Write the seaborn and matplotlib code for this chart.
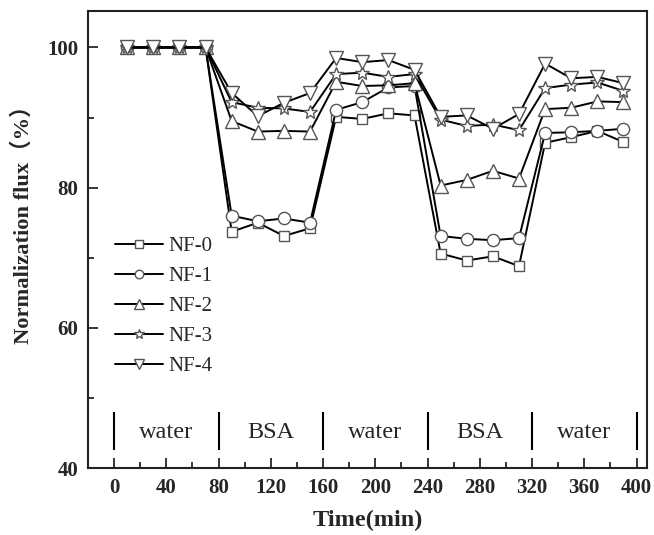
import numpy as np
import pandas as pd
import seaborn as sns
import matplotlib
matplotlib.use("Agg")
import matplotlib.pyplot as plt
from matplotlib.ticker import MultipleLocator

# ---- data ----
time = [10, 30, 50, 70, 90, 110, 130, 150, 170, 190, 210, 230,
        250, 270, 290, 310, 330, 350, 370, 390]
nf0 = [100, 100, 100, 100, 73.7, 75.0, 73.1, 74.2, 90.1, 89.8, 90.6, 90.3,
       70.6, 69.6, 70.2, 68.8, 86.4, 87.2, 88.1, 86.5]
nf1 = [100, 100, 100, 100, 76.0, 75.2, 75.6, 75.0, 91.1, 92.2, 94.3, 94.5,
       73.1, 72.7, 72.5, 72.8, 87.8, 87.9, 88.1, 88.4]
nf2 = [100, 100, 100, 100, 89.5, 88.0, 88.1, 88.0, 95.1, 94.5, 94.6, 94.9,
       80.3, 81.1, 82.4, 81.3, 91.2, 91.4, 92.3, 92.2]
nf3 = [100, 100, 100, 100, 92.2, 91.4, 91.3, 90.8, 96.2, 96.4, 95.8, 96.2,
       89.7, 88.8, 89.0, 88.2, 94.2, 94.7, 95.0, 93.8]
nf4 = [100, 100, 100, 100, 93.5, 90.2, 92.1, 93.5, 98.5, 97.9, 98.2, 96.8,
       90.1, 90.3, 88.4, 90.5, 97.7, 95.6, 95.8, 94.9]
series_names = ["NF-0", "NF-1", "NF-2", "NF-3", "NF-4"]
series_values = [nf0, nf1, nf2, nf3, nf4]
phase_bounds = [0, 80, 160, 240, 320, 400]
phase_labels = ["water", "BSA", "water", "BSA", "water"]
x_ticks = [0, 40, 80, 120, 160, 200, 240, 280, 320, 360, 400]
y_ticks = [40, 60, 80, 100]

df = pd.concat([pd.DataFrame({"time": time, "flux": v, "sample": n})
                for n, v in zip(series_names, series_values)], ignore_index=True)

# ---- style ----
sns.set_style("ticks")
plt.rcParams["font.family"] = ["Liberation Serif", "Noto Sans CJK SC"]
plt.rcParams["xtick.direction"] = "in"
plt.rcParams["ytick.direction"] = "in"

fig = plt.figure(figsize=(6.54, 5.35), dpi=100)
ax = fig.add_axes([88 / 654, 1 - 468 / 535, (647 - 88) / 654, (468 - 11) / 535])

markers = {"NF-0": "s", "NF-1": "o", "NF-2": "^", "NF-3": "*", "NF-4": "v"}
msizes = {"NF-0": 7.8, "NF-1": 8.8, "NF-2": 9.8, "NF-3": 10.8, "NF-4": 9.8}
sns.lineplot(data=df, x="time", y="flux", hue="sample", style="sample",
             palette=["black"] * 5, markers=markers, dashes=False,
             legend=False, ax=ax, linewidth=1.4)

for line, name in zip(ax.lines, series_names):
    line.set_markerfacecolor("white")
    line.set_markeredgecolor("#555555")
    line.set_markeredgewidth(1.0)
    line.set_markersize(msizes[name])
    line.set_label(name)

# phase separators and labels
ax.vlines(phase_bounds, 42.6, 48.0, color="black", linewidth=1.5)
for i, lab in enumerate(phase_labels):
    xc = (phase_bounds[i] + phase_bounds[i + 1]) / 2
    ax.text(xc, 45.0, lab, ha="center", va="center", fontsize=17.5,
            family="Liberation Serif")

leg = ax.legend(handles=ax.lines[:5], labels=series_names, loc="upper left",
                bbox_to_anchor=(0.034, 0.525), frameon=False, fontsize=15,
                handlelength=2.3, handletextpad=0.25, labelspacing=0.5,
                borderaxespad=0.0, numpoints=1, markerscale=0.7)

ax.set_xlim(-20, 408)
ax.set_ylim(40, 105.2)
ax.set_xticks(x_ticks)
ax.set_yticks(y_ticks)
ax.xaxis.set_minor_locator(MultipleLocator(20))
ax.yaxis.set_minor_locator(MultipleLocator(10))
ax.tick_params(which="major", length=7, width=1.3, labelsize=15, pad=7)
ax.tick_params(which="minor", length=4, width=1.3)
for lab in ax.get_xticklabels() + ax.get_yticklabels():
    lab.set_fontweight("bold")
for s in ax.spines.values():
    s.set_visible(True)
    s.set_linewidth(1.5)
    s.set_color("#222222")

ax.set_xlabel("Time(min)", fontsize=17.5, fontweight="bold", labelpad=9)
ax.set_ylabel("Normalization flux（%）", fontsize=16.2, fontweight="bold")
ax.yaxis.set_label_coords(-0.097, 0.545)

fig.savefig("out.png", dpi=100)
